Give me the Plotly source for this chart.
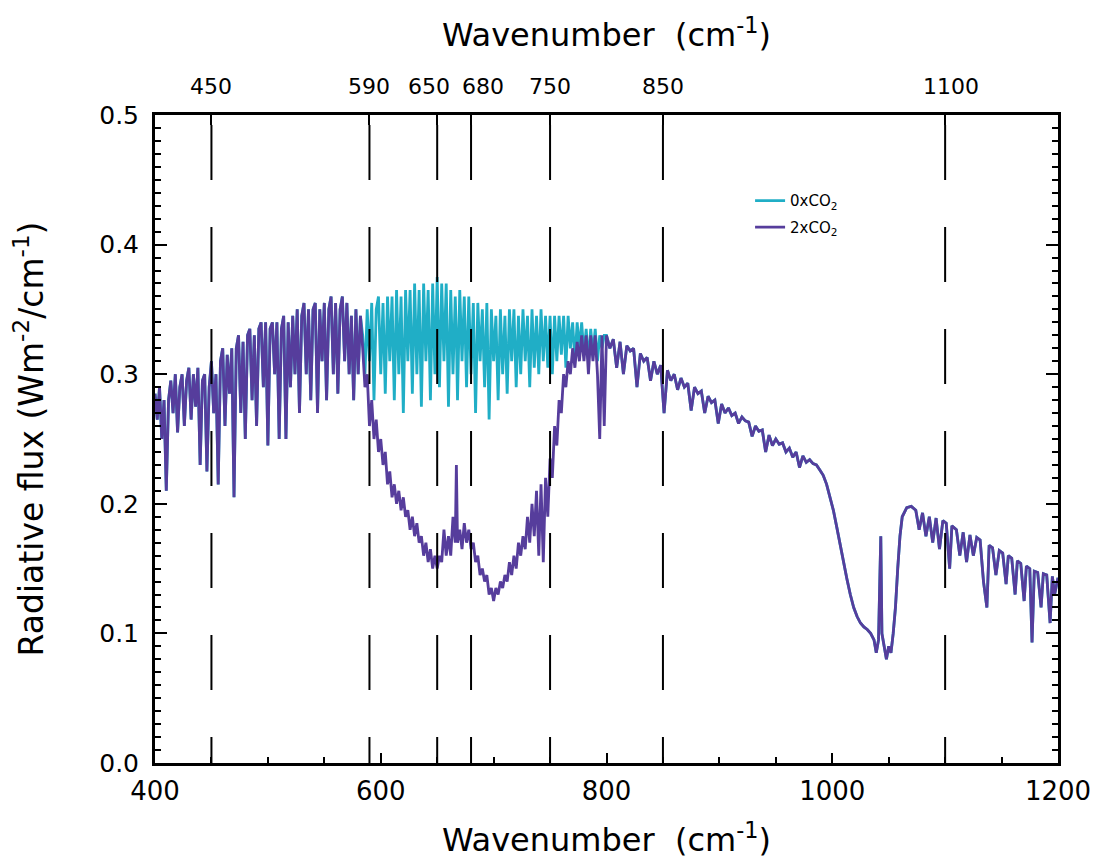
import plotly.graph_objects as go

# ---------------- data ----------------
# shared part, 400-582 cm-1 (both runs identical)
wn_left = [400, 402, 404, 406, 408, 410, 412, 414, 416, 418, 420, 422, 424, 426, 428, 430, 432, 434, 436, 438,
           440, 442, 444, 446, 448, 450, 452, 454, 456, 458, 460, 462, 464, 466, 468, 470, 472, 474, 476, 478,
           480, 482, 484, 486, 488, 490, 492, 494, 496, 498, 500, 502, 504, 506, 508, 510, 512, 514, 516, 518,
           520, 522, 524, 526, 528, 530, 532, 534, 536, 538, 540, 542, 544, 546, 548, 550, 552, 554, 556, 558,
           560, 562, 564, 566, 568, 570, 572, 574, 576, 578, 580, 582]
flux_left = [0.285, 0.265, 0.29, 0.25, 0.28, 0.21, 0.28, 0.295, 0.27, 0.30, 0.255, 0.29, 0.30, 0.26, 0.295, 0.305, 0.265, 0.30, 0.275, 0.305,
             0.23, 0.295, 0.30, 0.225, 0.29, 0.31, 0.27, 0.30, 0.215, 0.31, 0.32, 0.26, 0.315, 0.285, 0.32, 0.205, 0.32, 0.33, 0.27, 0.325,
             0.25, 0.33, 0.335, 0.28, 0.33, 0.26, 0.335, 0.34, 0.29, 0.34, 0.245, 0.335, 0.34, 0.30, 0.34, 0.25, 0.335, 0.345, 0.25, 0.34,
             0.29, 0.345, 0.30, 0.35, 0.27, 0.345, 0.355, 0.30, 0.35, 0.28, 0.35, 0.355, 0.27, 0.35, 0.31, 0.355, 0.28, 0.35, 0.36, 0.30,
             0.355, 0.285, 0.35, 0.36, 0.31, 0.355, 0.30, 0.345, 0.28, 0.35, 0.30, 0.345]

# CO2 band, 584-798 cm-1
wn_band = [584, 586, 588, 590, 592, 594, 596, 598, 600, 602, 604, 606, 608, 610, 612, 614, 616, 618, 620, 622,
           624, 626, 628, 630, 632, 634, 636, 638, 640, 642, 644, 646, 648, 650, 652, 654, 656, 658, 660, 662,
           664, 666, 667, 668, 670, 672, 674, 676, 678, 680, 682, 684, 686, 688, 690, 692, 694, 696, 698, 700,
           702, 704, 706, 708, 710, 712, 714, 716, 718, 720, 722, 724, 726, 728, 730, 732, 734, 736, 738, 740,
           742, 744, 746, 748, 750, 752, 754, 756, 758, 760, 762, 764, 766, 768, 770, 772, 774, 776, 778, 780,
           782, 784, 786, 788, 790, 792, 794, 796, 798]
flux_band_0x = [0.33, 0.30, 0.35, 0.31, 0.355, 0.28, 0.35, 0.36, 0.30, 0.355, 0.285, 0.36, 0.31, 0.36, 0.28, 0.365, 0.30, 0.36, 0.27, 0.365,
                0.31, 0.365, 0.285, 0.37, 0.30, 0.365, 0.275, 0.37, 0.31, 0.365, 0.28, 0.37, 0.30, 0.375, 0.29, 0.37, 0.31, 0.37, 0.275, 0.365,
                0.30, 0.36, 0.33, 0.28, 0.365, 0.31, 0.36, 0.29, 0.36, 0.30, 0.355, 0.27, 0.355, 0.31, 0.35, 0.29, 0.355, 0.265, 0.35, 0.31,
                0.345, 0.28, 0.35, 0.30, 0.345, 0.285, 0.35, 0.31, 0.35, 0.29, 0.345, 0.30, 0.35, 0.31, 0.345, 0.29, 0.35, 0.305, 0.345, 0.30,
                0.35, 0.31, 0.345, 0.305, 0.345, 0.30, 0.345, 0.31, 0.345, 0.315, 0.345, 0.305, 0.345, 0.32, 0.34, 0.31, 0.34, 0.32, 0.34, 0.315,
                0.335, 0.31, 0.335, 0.315, 0.335, 0.31, 0.33, 0.32, 0.33]
flux_band_2x = [0.32, 0.29, 0.30, 0.26, 0.28, 0.25, 0.265, 0.24, 0.25, 0.23, 0.24, 0.215, 0.225, 0.205, 0.215, 0.20, 0.21, 0.195, 0.205, 0.19,
                0.195, 0.18, 0.19, 0.175, 0.185, 0.17, 0.175, 0.16, 0.17, 0.155, 0.165, 0.15, 0.16, 0.15, 0.16, 0.155, 0.18, 0.16, 0.175, 0.16,
                0.19, 0.17, 0.23, 0.17, 0.18, 0.165, 0.185, 0.17, 0.18, 0.165, 0.17, 0.155, 0.16, 0.145, 0.15, 0.14, 0.145, 0.13, 0.135, 0.125,
                0.135, 0.13, 0.14, 0.135, 0.145, 0.14, 0.155, 0.145, 0.16, 0.15, 0.17, 0.16, 0.175, 0.165, 0.19, 0.17, 0.20, 0.175, 0.21, 0.16,
                0.215, 0.155, 0.22, 0.19, 0.235, 0.22, 0.26, 0.245, 0.28, 0.27, 0.30, 0.29, 0.31, 0.30, 0.32, 0.305, 0.325, 0.31, 0.33, 0.31,
                0.33, 0.30, 0.33, 0.31, 0.33, 0.30, 0.25, 0.33, 0.26]

# shared part, 800-1200 cm-1
wn_right = [800, 803, 806, 809, 812, 815, 818, 821, 824, 827, 830, 833, 836, 839, 842, 845, 848, 851, 854, 857,
            860, 863, 866, 869, 872, 875, 878, 881, 884, 887, 890, 893, 896, 899, 902, 905, 908, 911, 914, 917,
            920, 923, 926, 929, 932, 935, 938, 941, 944, 947, 950, 953, 956, 959, 962, 965, 968, 971, 974, 977,
            980, 983, 986, 989, 992, 995, 998, 1001, 1004, 1007, 1010, 1013, 1016, 1019, 1022, 1025, 1028, 1031, 1034, 1037,
            1039, 1041, 1042, 1043, 1044, 1046, 1048, 1050, 1052, 1054, 1056, 1058, 1060, 1062, 1066, 1070, 1074, 1077, 1080, 1083,
            1086, 1089, 1092, 1095, 1098, 1101, 1104, 1106, 1110, 1113, 1116, 1119, 1122, 1125, 1128, 1131, 1134, 1137, 1139, 1142,
            1145, 1148, 1151, 1154, 1156, 1159, 1162, 1164, 1167, 1170, 1172, 1175, 1177, 1179, 1182, 1185, 1187, 1190, 1193, 1195,
            1197, 1200]
flux_right = [0.33, 0.32, 0.327, 0.305, 0.325, 0.30, 0.322, 0.318, 0.32, 0.29, 0.316, 0.31, 0.313, 0.295, 0.31, 0.30, 0.307, 0.27, 0.303, 0.295,
              0.30, 0.288, 0.297, 0.29, 0.293, 0.272, 0.29, 0.285, 0.287, 0.27, 0.283, 0.278, 0.28, 0.262, 0.277, 0.27, 0.274, 0.268, 0.27, 0.262,
              0.267, 0.264, 0.263, 0.252, 0.26, 0.256, 0.257, 0.24, 0.253, 0.245, 0.25, 0.246, 0.247, 0.24, 0.243, 0.236, 0.24, 0.228, 0.237, 0.232,
              0.234, 0.231, 0.23, 0.226, 0.222, 0.215, 0.205, 0.195, 0.182, 0.168, 0.155, 0.142, 0.13, 0.12, 0.113, 0.108, 0.105, 0.103, 0.10, 0.095,
              0.085, 0.095, 0.135, 0.175, 0.10, 0.09, 0.08, 0.09, 0.085, 0.10, 0.12, 0.15, 0.175, 0.19, 0.197, 0.198, 0.195, 0.18, 0.193, 0.175,
              0.19, 0.17, 0.189, 0.165, 0.187, 0.185, 0.15, 0.183, 0.18, 0.16, 0.178, 0.155, 0.176, 0.16, 0.174, 0.172, 0.14, 0.12, 0.168, 0.166,
              0.145, 0.164, 0.162, 0.138, 0.16, 0.158, 0.13, 0.156, 0.154, 0.125, 0.152, 0.15, 0.093, 0.148, 0.147, 0.12, 0.146, 0.145, 0.108, 0.144,
              0.13, 0.143]

# marked wavenumbers (dashed lines / top axis)
marked_wn = [450, 590, 650, 680, 750, 850, 1100]
marked_labels = ["450", "590", "650", "680", "750", "850", "1100"]
marked_label_shift = [0, 0, -8, 12, 0, 0, 6]   # label nudges (px) so crowded labels do not collide

x_ticks = [400, 600, 800, 1000, 1200]
y_ticks = [0.0, 0.1, 0.2, 0.3, 0.4, 0.5]
y_ticklabels = ["0.0", "0.1", "0.2", "0.3", "0.4", "0.5"]

series_names = ["0xCO<sub>2</sub>", "2xCO<sub>2</sub>"]
series_colors = ["#20aec6", "#563d9c"]

wn_all = wn_left + wn_band + wn_right
flux_0x = flux_left + flux_band_0x + flux_right
flux_2x = flux_left + flux_band_2x + flux_right

# ---------------- figure ----------------
FONT = "DejaVu Sans, Verdana, sans-serif"
fig = go.Figure()
fig.add_trace(go.Scatter(x=wn_all, y=flux_0x, mode="lines", name=series_names[0],
                         line=dict(color=series_colors[0], width=2.8), legendgroup="a"))
fig.add_trace(go.Scatter(x=wn_all, y=flux_2x, mode="lines", name=series_names[1],
                         line=dict(color=series_colors[1], width=2.8), legendgroup="b"))
# invisible trace to activate top axis
fig.add_trace(go.Scatter(x=[400, 1200], y=[0, 0], mode="lines", xaxis="x2",
                         line=dict(width=0), showlegend=False, hoverinfo="skip"))

plot_h = 648
top_gap = 10 / plot_h
for w in marked_wn:
    fig.add_shape(type="line", xref="x", yref="paper", x0=w, x1=w, y0=1 - top_gap, y1=0,
                  line=dict(color="black", width=2, dash="55px,47px"), layer="above")

for w, lab, sh in zip(marked_wn, marked_labels, marked_label_shift):
    fig.add_annotation(x=w, xref="x", y=1, yref="paper", text=lab, showarrow=False,
                       xanchor="center", yanchor="bottom", xshift=sh, yshift=14,
                       font=dict(size=22, family="DejaVu Sans, Verdana, sans-serif", color="black"))

title_txt = "Wavenumber\u00a0\u00a0(cm<sup>-1</sup>)"
fig.update_layout(
    width=1105, height=865,
    margin=dict(l=155, r=47, t=115, b=102, autoexpand=False),
    paper_bgcolor="white", plot_bgcolor="white",
    font=dict(family=FONT, color="black", size=20),
    showlegend=True,
    legend=dict(x=0.659, y=0.893, xanchor="left", yanchor="top", bgcolor="rgba(0,0,0,0)",
                font=dict(size=15, family=FONT), traceorder="grouped", tracegroupgap=4),
    xaxis=dict(range=[400, 1200], tickvals=x_ticks, ticks="inside", ticklen=10, tickwidth=2,
               tickcolor="black", showline=True, linewidth=3, linecolor="black", mirror=True,
               showgrid=False, zeroline=False, tickfont=dict(size=26), ticklabelstandoff=3,
               minor=dict(dtick=50, tick0=400, ticks="inside", ticklen=6, tickwidth=1.5, tickcolor="black", showgrid=False),
               title=dict(text=title_txt, font=dict(size=32), standoff=24)),
    xaxis2=dict(range=[400, 1200], overlaying="x", side="top", tickvals=marked_wn, showticklabels=False,
                ticks="inside", ticklen=10, tickwidth=2, tickcolor="black", showgrid=False,
                zeroline=False, showline=False,
                title=dict(text=title_txt, font=dict(size=32), standoff=57)),
    yaxis=dict(range=[0, 0.5], tickvals=y_ticks, ticktext=y_ticklabels, ticks="inside", ticklen=12, tickwidth=2,
               tickcolor="black", showline=True, linewidth=3, linecolor="black", mirror="ticks",
               showgrid=False, zeroline=False, tickfont=dict(size=25), ticklabelstandoff=8,
               minor=dict(dtick=0.01, tick0=0, ticks="inside", ticklen=6, tickwidth=1.5, tickcolor="black", showgrid=False),
               title=dict(text="Radiative flux (Wm<sup>-2</sup>/cm<sup>-1</sup>)", font=dict(size=33), standoff=46)),
)

fig.write_html("out.html")
